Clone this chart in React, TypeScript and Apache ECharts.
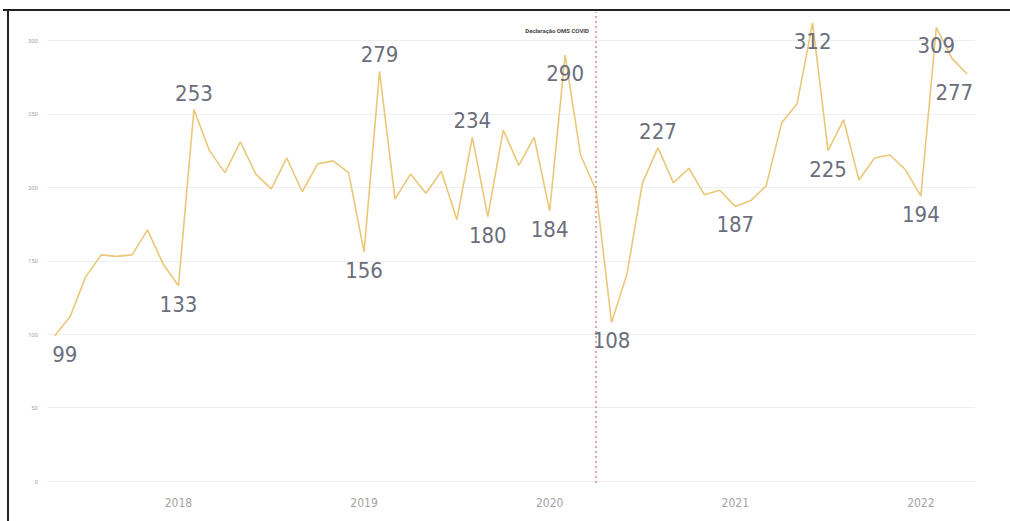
import React, { useEffect, useRef } from "react";
import * as echarts from "echarts";

const months = [
  "2017-05","2017-06","2017-07","2017-08","2017-09","2017-10","2017-11","2017-12",
  "2018-01","2018-02","2018-03","2018-04","2018-05","2018-06","2018-07","2018-08","2018-09","2018-10","2018-11","2018-12",
  "2019-01","2019-02","2019-03","2019-04","2019-05","2019-06","2019-07","2019-08","2019-09","2019-10","2019-11","2019-12",
  "2020-01","2020-02","2020-03","2020-04","2020-05","2020-06","2020-07","2020-08","2020-09","2020-10","2020-11","2020-12",
  "2021-01","2021-02","2021-03","2021-04","2021-05","2021-06","2021-07","2021-08","2021-09","2021-10","2021-11","2021-12",
  "2022-01","2022-02","2022-03","2022-04",
];

const values = [
  99, 112, 139, 154, 153, 154, 171, 148, 133, 253,
  225, 210, 231, 209, 199, 220, 197, 216, 218, 210,
  156, 279, 192, 209, 196, 211, 178, 234, 180, 239,
  215, 234, 184, 290, 222, 198, 108, 141, 203, 227,
  203, 213, 195, 198, 187, 191, 201, 244, 257, 312,
  225, 246, 205, 220, 222, 212, 194, 309, 288, 277,
];

const labelsAbove = ["2018-02", "2019-02", "2019-08", "2020-08"];
const labelsBelow = [
  "2017-05", "2018-01", "2019-01", "2019-09", "2020-01", "2020-02", "2020-05",
  "2021-01", "2021-06", "2021-07", "2022-01", "2022-02", "2022-04",
];

const yTicks = [0, 50, 100, 150, 200, 250, 300];
const covidMonth = "2020-04";
const covidText = "Declaração OMS COVID";

const LINE_COLOR = "#EAC878";
const LABEL_COLOR = "#6b6e7c";
const LABEL_FONT = "'Liberation Sans Narrow', 'DejaVu Sans Condensed', Roboto, sans-serif";

export default function App() {
  const ref = useRef<HTMLDivElement>(null);

  useEffect(() => {
    if (!ref.current) return;
    const chart = echarts.init(ref.current, undefined, { renderer: "svg" });

    const data = values.map((v, i) => {
      const m = months[i];
      let label: any = { show: false };
      if (labelsAbove.includes(m)) {
        label = { show: true, position: "top", distance: 5 };
      } else if (labelsBelow.includes(m)) {
        label = { show: true, position: "bottom", distance: 7 };
        if (i === 0) label.offset = [10, 0];
        if (i === values.length - 1) label.offset = [-13, 0];
      }
      return { value: v, label };
    });

    const covidIdx = months.indexOf(covidMonth);

    chart.setOption({
      animation: false,
      backgroundColor: "#ffffff",
      grid: [
        { left: 47, right: 35, top: 40.5, bottom: 40, containLabel: false },
        { left: 47, right: 35, top: 12, bottom: 38, containLabel: false },
      ],
      xAxis: [
        {
          type: "category",
          data: months,
          boundaryGap: true,
          gridIndex: 0,
          axisLine: { show: false },
          axisTick: { show: false },
          splitLine: { show: false },
          axisLabel: {
            interval: (_i: number, v: string) => v.endsWith("-01"),
            formatter: (v: string) => v.slice(0, 4),
            color: "#a3a3a3",
            fontSize: 12,
            fontFamily: LABEL_FONT,
            margin: 16,
          },
        },
        {
          type: "category",
          data: months,
          boundaryGap: true,
          gridIndex: 1,
          show: false,
        },
      ],
      yAxis: [
        {
          type: "value",
          gridIndex: 0,
          min: yTicks[0],
          max: yTicks[yTicks.length - 1],
          interval: 50,
          axisLine: { show: false },
          axisTick: { show: false },
          splitLine: { show: true, lineStyle: { color: "#efefef", width: 1 } },
          axisLabel: { color: "#a8a8a8", fontSize: 6, margin: 9, fontFamily: "Roboto, sans-serif" },
        },
        { type: "value", gridIndex: 1, min: 0, max: 1, show: false },
      ],
      series: [
        {
          type: "line",
          data,
          clip: false,
          symbol: "circle",
          symbolSize: 1,
          showSymbol: true,
          itemStyle: { color: "rgba(0,0,0,0)" },
          lineStyle: { color: LINE_COLOR, width: 1.6 },
          label: {
            color: LABEL_COLOR,
            fontSize: 22,
            fontFamily: LABEL_FONT,
          },
          z: 3,
        },
        {
          type: "line",
          xAxisIndex: 1,
          yAxisIndex: 1,
          data: [],
          markLine: {
            silent: true,
            symbol: "none",
            label: { show: false },
            lineStyle: { color: "#d98a9a", type: [2, 3], width: 1.5 },
            data: [{ xAxis: covidIdx }],
          },
          z: 2,
        },
      ],
      graphic: [
        {
          type: "text",
          right: 1010 - 589,
          top: 27,
          style: {
            text: covidText,
            fill: "#444",
            fontSize: 6,
            fontWeight: "bold",
            fontFamily: "Roboto, sans-serif",
          },
        },
        { type: "line", shape: { x1: 3, y1: 10, x2: 1010, y2: 10 }, style: { stroke: "#222", lineWidth: 2 } },
        { type: "line", shape: { x1: 8, y1: 9, x2: 8, y2: 521 }, style: { stroke: "#222", lineWidth: 2 } },
      ],
    });

    return () => chart.dispose();
  }, []);

  return (
    <div
      ref={ref}
      style={{ position: "fixed", left: 0, top: 0, width: 1010, height: 521, background: "#fff" }}
    />
  );
}
